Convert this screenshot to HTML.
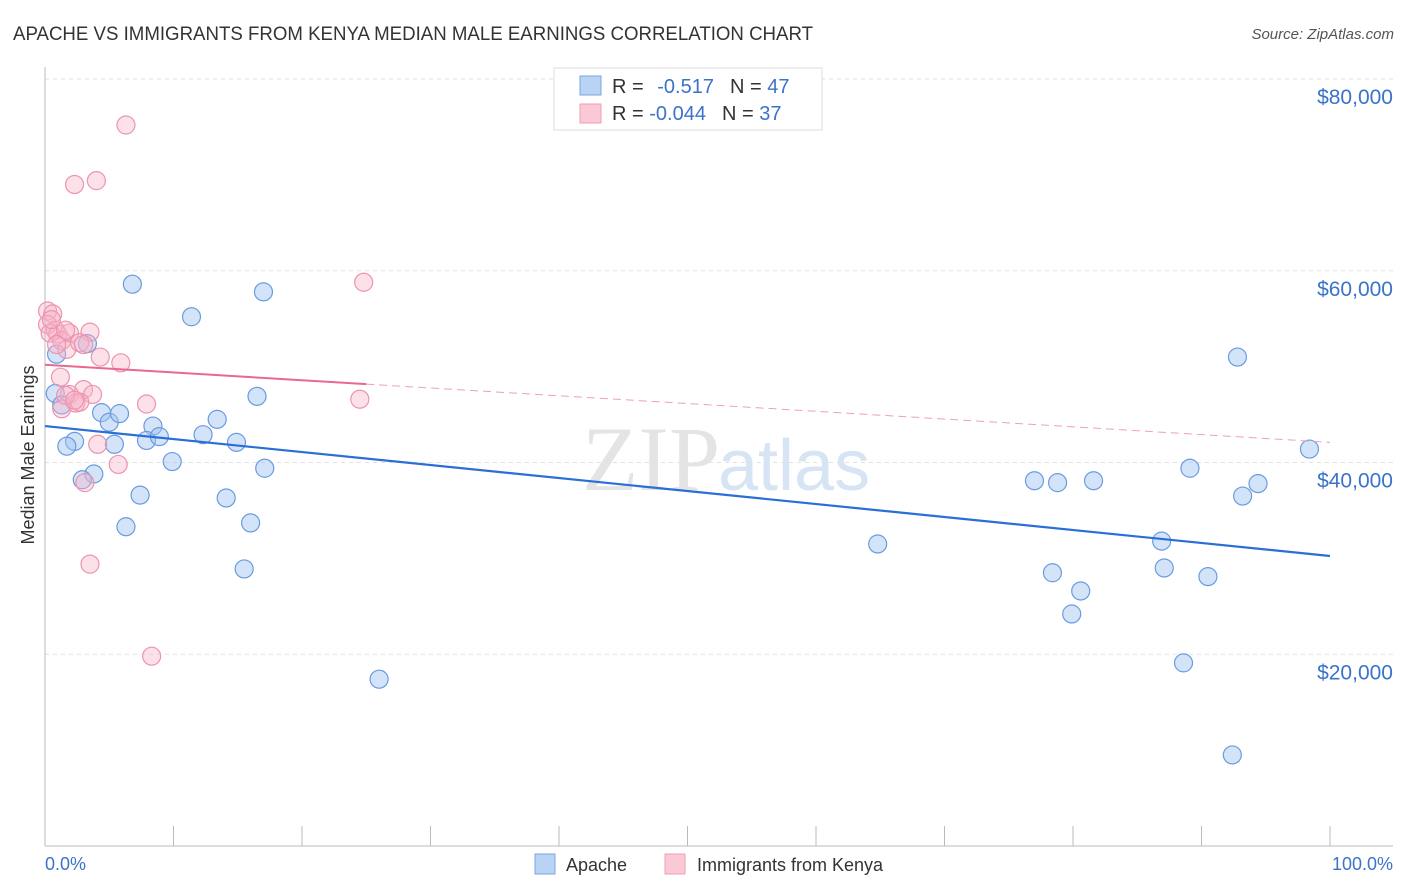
<!DOCTYPE html>
<html><head><meta charset="utf-8"><style>
body{margin:0;background:#fff;font-family:"Liberation Sans",sans-serif}
svg{display:block}
</style></head><body>
<svg id="c" width="1406" height="892">
<text x="13" y="40" font-size="19" fill="#333" textLength="800" lengthAdjust="spacingAndGlyphs">APACHE VS IMMIGRANTS FROM KENYA MEDIAN MALE EARNINGS CORRELATION CHART</text>
<text x="1394" y="39" font-size="15" fill="#555" font-style="italic" text-anchor="end">Source: ZipAtlas.com</text>
<g id="grid"></g>
<text x="720" y="490" font-size="92" font-family="Liberation Serif,serif" fill="#e4e4e4" text-anchor="end">ZIP</text>
<text x="718" y="490" font-size="72" fill="#d6e4f4">atlas</text>
<g id="marks"></g>
<text transform="translate(34,455) rotate(-90)" font-size="18" fill="#333" text-anchor="middle">Median Male Earnings</text>
<text x="45" y="870" font-size="18" fill="#3b73c9">0.0%</text>
<text x="1393" y="870" font-size="18" fill="#3b73c9" text-anchor="end">100.0%</text>
<g>
<rect x="554" y="68" width="268" height="62" fill="#fff" stroke="#ddd"/>
<rect x="580" y="76" width="21" height="19" fill="#b9d3f5" stroke="#7aa6e0"/>
<rect x="580" y="104" width="21" height="19" fill="#fbc9d6" stroke="#ee9fb7"/>
<text x="612" y="93" font-size="20" fill="#333">R = <tspan fill="#3b73c9" dx="8">-0.517</tspan><tspan dx="16">N = </tspan><tspan fill="#3b73c9">47</tspan></text>
<text x="612" y="120" font-size="20" fill="#333">R = <tspan fill="#3b73c9">-0.044</tspan><tspan dx="16">N = </tspan><tspan fill="#3b73c9">37</tspan></text>
</g>
<g>
<rect x="535" y="854" width="20" height="20" fill="#b9d3f5" stroke="#7aa6e0"/>
<text x="566" y="871" font-size="18" fill="#333">Apache</text>
<rect x="665" y="854" width="20" height="20" fill="#fbc9d6" stroke="#ee9fb7"/>
<text x="697" y="871" font-size="18" fill="#333">Immigrants from Kenya</text>
</g>
</svg>
<script>
const yTicks=[20000,40000,60000,80000];
const yTickLabels=["$20,000","$40,000","$60,000","$80,000"];
const xTicks=[0,10,20,30,40,50,60,70,80,90,100];
const apacheX=[6.8,11.4,17.0,3.3,0.9,0.8,1.3,2.3,1.7,4.4,5.0,5.8,5.4,8.4,7.9,8.9,13.4,12.3,14.9,9.9,16.5,17.1,3.8,2.9,7.4,14.1,6.3,16.0,15.5,26.0,64.8,77.0,78.8,81.6,89.1,92.8,93.2,94.4,98.4,86.9,87.1,78.4,80.6,79.9,90.5,88.6,92.4];
const apacheY=[58600,55200,57800,52400,51300,47200,46000,42200,41700,45200,44200,45100,41900,43800,42300,42700,44500,42900,42100,40100,46900,39400,38800,38200,36600,36300,33300,33700,28900,17400,31500,38100,37900,38100,39400,51000,36500,37800,41400,31800,29000,28500,26600,24200,28100,19100,9500];
const kenyaX=[6.3,4.0,2.3,24.8,0.2,0.6,0.2,0.8,1.0,0.4,3.5,1.9,1.3,1.7,4.3,5.9,2.7,1.2,3.0,1.9,3.7,2.4,2.7,1.3,7.9,24.5,4.1,5.7,3.1,3.5,8.3,1.6,2.3,0.5,1.6,3.0,0.9];
const kenyaY=[75200,69400,69000,58800,55800,55500,54400,53800,53400,53500,53600,53500,52700,51800,51000,50400,52500,48900,47600,47100,47100,46200,46300,45600,46100,46600,41900,39800,37900,29400,19800,47000,46500,54900,53800,52300,52300];
const apacheTrend=[43800,30250];
const kenyaTrend=[50200,42100];
const kenyaSolidEnd=25;
const NS="http://www.w3.org/2000/svg";
const X=v=>45+v*12.85, Y=v=>846-v*767/80000;
function mk(t,a,p){const e=document.createElementNS(NS,t);for(const k in a)e.setAttribute(k,a[k]);p.appendChild(e);return e;}
const g=document.getElementById('grid'), m=document.getElementById('marks');
yTicks.forEach((v,i)=>{
 const l=mk('line',{x1:45,x2:1393,y1:Y(v),y2:Y(v),stroke:'#e2e2e2','stroke-dasharray':'4,4'},g);
 
 
 const t=mk('text',{x:1393,y:Y(v)+25,'font-size':21,fill:'#3b73c9','text-anchor':'end'},g);
 t.textContent=yTickLabels[i];
 
 
});
mk('line',{x1:45,x2:45,y1:67,y2:846,stroke:'#bbb'},g);
const ax=mk('line',{x1:45,x2:1393,y1:846,y2:846,stroke:'#bbb'},g);


xTicks.forEach(v=>{
 const t=mk('line',{x1:X(v),x2:X(v),y1:826,y2:846,stroke:'#bbb'},g);
 
 
});
apacheX.forEach((x,i)=>{
 const c=mk('circle',{cx:X(x),cy:Y(apacheY[i]),r:9,fill:'rgba(160,195,240,0.45)',stroke:'#6a9be0','stroke-width':1.2},m);
 
 
});
kenyaX.forEach((x,i)=>{
 const c=mk('circle',{cx:X(x),cy:Y(kenyaY[i]),r:9,fill:'rgba(248,180,200,0.4)',stroke:'#ec94b0','stroke-width':1.2},m);
 
 
});
const bl=mk('line',{x1:X(0),y1:Y(apacheTrend[0]),x2:X(100),y2:Y(apacheTrend[1]),stroke:'#2a6fd6','stroke-width':2.2},m);


const ky=v=>kenyaTrend[0]+(kenyaTrend[1]-kenyaTrend[0])*v/100;
const pl=mk('line',{x1:X(0),y1:Y(ky(0)),x2:X(kenyaSolidEnd),y2:Y(ky(kenyaSolidEnd)),stroke:'#e86890','stroke-width':2},m);


const pd=mk('line',{x1:X(kenyaSolidEnd),y1:Y(ky(kenyaSolidEnd)),x2:X(100),y2:Y(ky(100)),stroke:'#eea0b8','stroke-width':1,'stroke-dasharray':'8,5'},m);


</script>
</body></html>
